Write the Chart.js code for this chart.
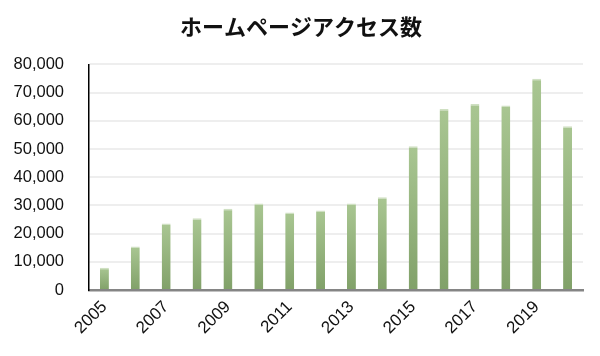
<!DOCTYPE html>
<html>
<head>
<meta charset="utf-8">
<script src="https://cdn.jsdelivr.net/npm/chart.js@4/dist/chart.umd.min.js"></script>
<style>
html,body{margin:0;padding:0;background:#fff;}
#wrap{width:600px;height:356px;position:relative;}
</style>
</head>
<body>
<div id="wrap"><canvas id="c" width="600" height="356"></canvas></div>
<script>
const years = ['2005','2006','2007','2008','2009','2010','2011','2012','2013','2014','2015','2016','2017','2018','2019','2020'];
const visits = [7900,15400,23600,25400,28800,30700,27500,28200,30700,32900,51000,64200,66000,65400,74900,58100];
const yTicks = [0,10000,20000,30000,40000,50000,60000,70000,80000];
const chartTitle = 'ホームページアクセス数';

function barGradient(ctx){
  const chart = ctx.chart;
  const y = chart.scales && chart.scales.y;
  if (!y || ctx.type !== 'data') return '#96b57e';
  const top = y.getPixelForValue(ctx.raw);
  const bot = y.getPixelForValue(0);
  if (!isFinite(top) || !isFinite(bot) || top === bot) return '#96b57e';
  const g = chart.ctx.createLinearGradient(0, top, 0, bot);
  g.addColorStop(0, '#a9c692');
  g.addColorStop(1, '#81a169');
  return g;
}

new Chart(document.getElementById('c'), {
  type: 'bar',
  data: {
    labels: years,
    datasets: [{
      data: visits,
      backgroundColor: barGradient,
      borderColor: '#cfe0c2',
      borderWidth: {top: 1.5, left: 0, right: 0, bottom: 0},
      borderSkipped: false,
      categoryPercentage: 1,
      barPercentage: 0.29
    }]
  },
  options: {
    responsive: false,
    animation: false,
    devicePixelRatio: 1,
    layout: {padding: {left: 2, right: 0, top: 0, bottom: 0}},
    plugins: {
      legend: {display: false},
      tooltip: {enabled: false},
      title: {
        display: true,
        text: chartTitle,
        color: '#111',
        font: {family: '"Noto Sans CJK JP", "Noto Sans", sans-serif', size: 22, weight: 'bold'},
        padding: {top: 13, bottom: 25}
      }
    },
    scales: {
      x: {
        grid: {display: false, drawTicks: false},
        border: {display: true, color: '#858585', width: 2.5},
        ticks: {
          color: '#111',
          font: {family: '"Liberation Sans", Arial, sans-serif', size: 17},
          minRotation: 45, maxRotation: 45,
          autoSkip: false,
          padding: 7,
          callback: function(v, i){ return i % 2 === 0 ? years[i] : ''; }
        },
        afterFit: function(s){ s.height = 66; }
      },
      y: {
        min: 0, max: 80000,
        afterBuildTicks: function(s){ s.ticks = yTicks.map(v => ({value: v})); },
        grid: {color: '#eeeeee', lineWidth: 2, drawTicks: false},
        border: {display: true, color: '#000', width: 1.5},
        ticks: {
          color: '#111',
          font: {family: '"Liberation Sans", Arial, sans-serif', size: 16.5},
          padding: 25,
          callback: function(v){ return v.toLocaleString('en-US'); }
        },
        afterFit: function(s){ s.width = 87; }
      },
      yRight: {
        position: 'right',
        display: true,
        min: 0, max: 80000,
        grid: {display: false, drawTicks: false},
        border: {display: false},
        ticks: {display: false},
        afterFit: function(s){ s.width = 17; }
      }
    }
  }
});
</script>
</body>
</html>
